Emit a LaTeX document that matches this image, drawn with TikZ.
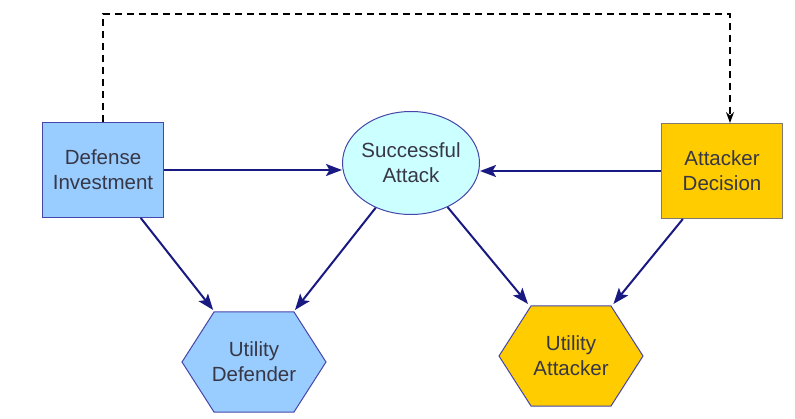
\documentclass[tikz,border=0pt]{standalone}
\usepackage{fontspec}
\setmainfont{Liberation Sans}
\usetikzlibrary{arrows.meta,shapes.geometric}
\definecolor{defblue}{RGB}{153,204,255}
\definecolor{attgold}{RGB}{255,204,0}
\definecolor{sacyan}{RGB}{204,255,255}
\definecolor{arrownavy}{RGB}{25,25,130}
\definecolor{edgeblue}{RGB}{70,70,170}
\definecolor{edgegray}{RGB}{130,120,110}
\definecolor{labelgray}{RGB}{55,55,70}

\begin{document}
\begin{tikzpicture}[x=1pt,y=-1pt,->,>={Stealth[length=16pt,width=12pt,inset=3.5pt]},line width=2pt,arrownavy,
  every node/.style={font=\fontsize{20.5}{25}\selectfont,text=labelgray,align=center}]
 \tikzstyle{box}=[rectangle,draw=edgeblue,line width=1pt,minimum width=121pt,minimum height=95pt]
 \tikzstyle{chance}=[ellipse,draw=edgeblue,fill=sacyan,line width=1pt,inner xsep=-2pt,minimum width=137pt,minimum height=103pt]
 \tikzset{utility/.style={rectangle,minimum width=146pt,minimum height=102pt,
   path picture={\path[-,fill=#1,draw=edgeblue,line width=1pt]
     ([xshift=1pt]path picture bounding box.west)
     -- ([shift={(33pt,-1pt)}]path picture bounding box.north west)
     -- ([shift={(-33pt,-1pt)}]path picture bounding box.north east)
     -- ([xshift=-1pt]path picture bounding box.east)
     -- ([shift={(-33pt,1pt)}]path picture bounding box.south east)
     -- ([shift={(33pt,1pt)}]path picture bounding box.south west) -- cycle;}}}

   \path[-,use as bounding box,fill=white] (0,0) rectangle (795,419);

   \node[box,fill=defblue] (di) at (103,170) {Defense\\Investment};
   \node[chance] (sa) at (411,163) {Successful\\Attack};
   \node[box,fill=attgold,draw=edgegray] (ad) at (722,171) {Attacker\\Decision};
   \node[utility=defblue] (ud) at (254,362) {Utility\\Defender};
   \node[utility=attgold] (ua) at (571,356) {Utility\\Attacker};
   \coordinate (loop) at (400,14);

   \path[->]
   (di) edge (di -| sa.west)
   (ad) edge (ad -| sa.east)
   (di) edge (ud)
   (sa) edge (ud)
   (sa) edge (ua)
   (ad) edge (ua);

   % feedback from the defender to the attacker
   \draw[black,line width=1.5pt,dash pattern=on 7pt off 5pt,>={Stealth[length=11pt,width=8pt]}]
   (di.north) |- (loop) -| ([xshift=8pt]ad.north);

\end{tikzpicture}
\end{document}
